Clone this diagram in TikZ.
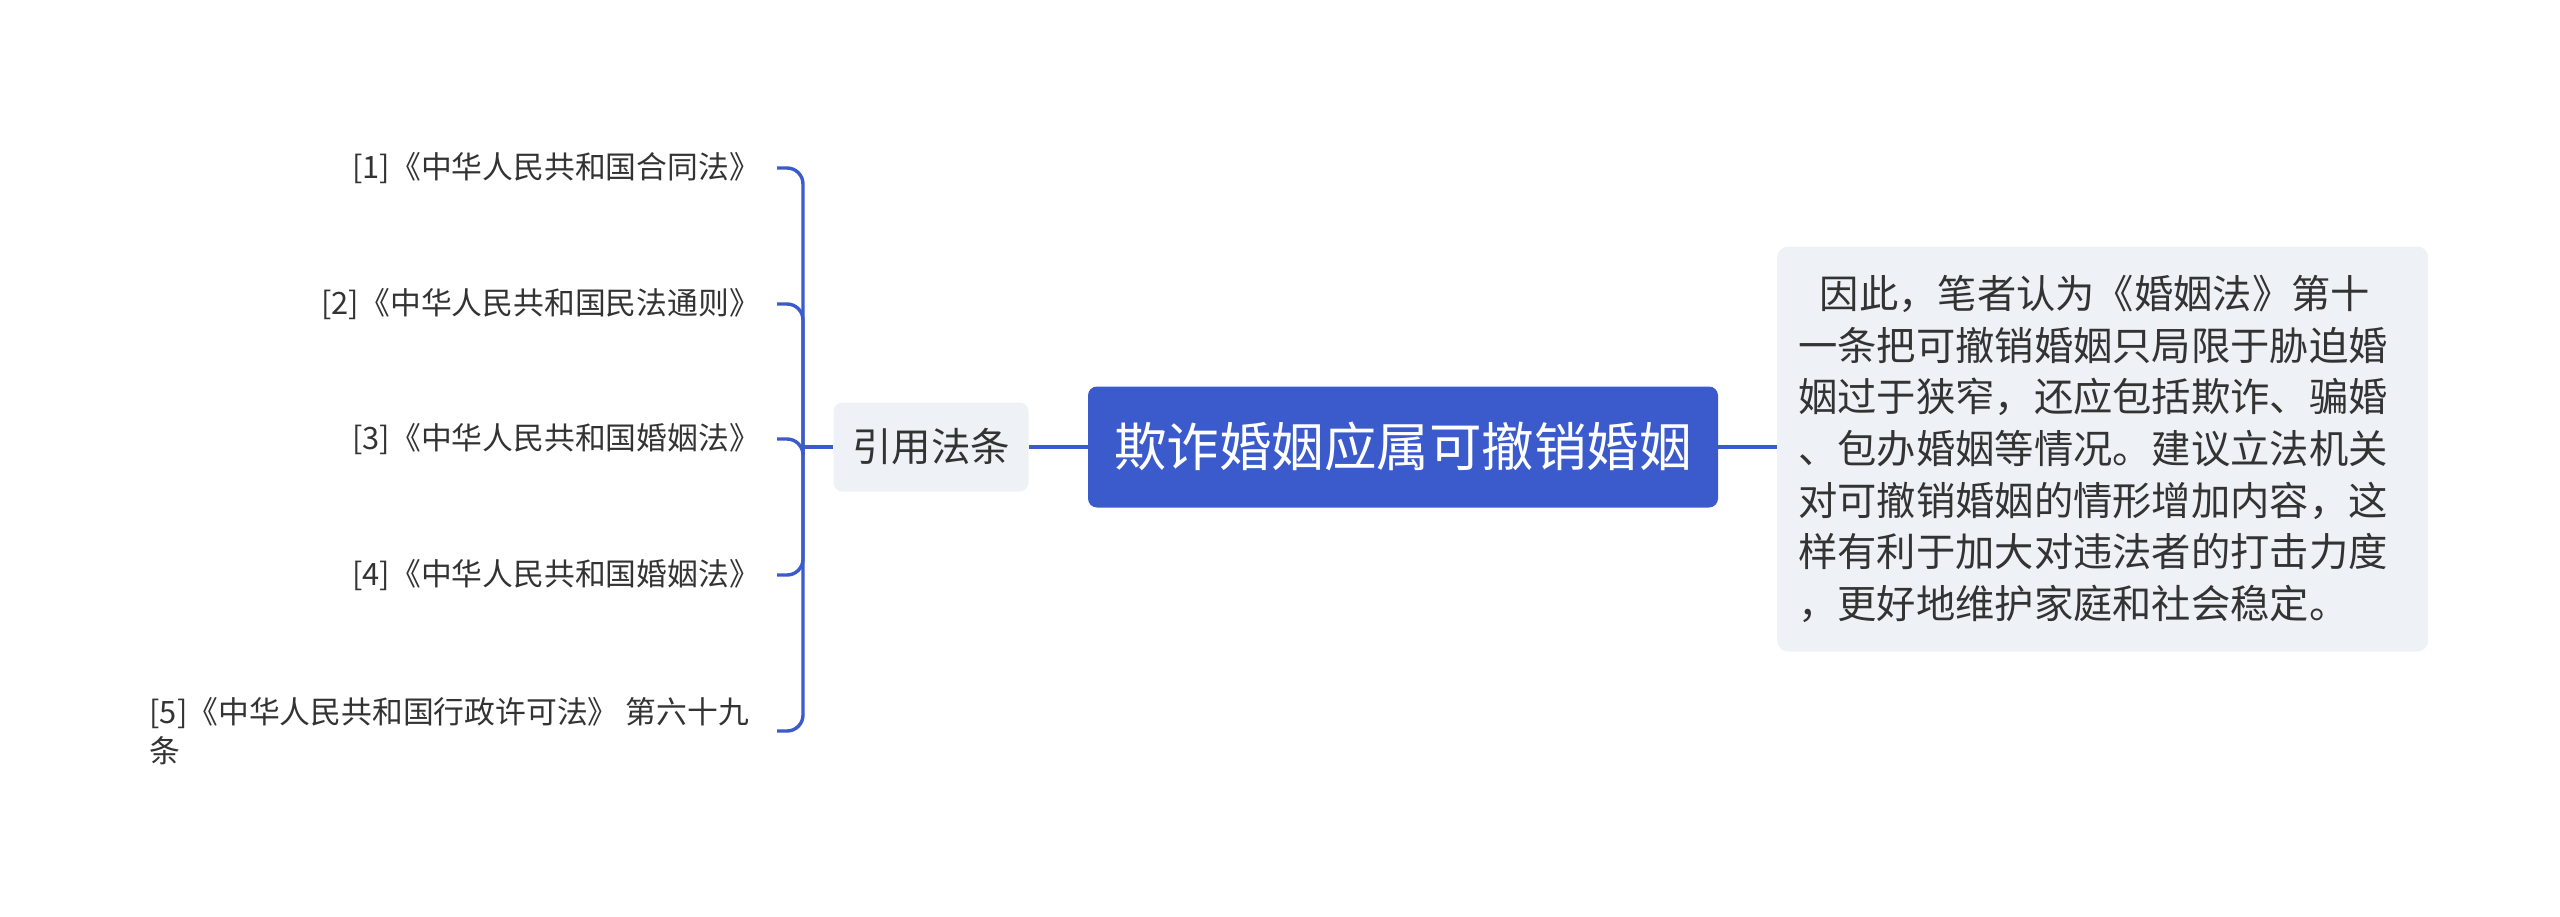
\documentclass[tikz,border=0pt]{standalone}
\usepackage{fontspec}
\setmainfont{Noto Sans CJK SC}
\usetikzlibrary{positioning}

\definecolor{topicblue}{HTML}{3B5BCC}
\definecolor{notegray}{HTML}{EEF1F5}
\definecolor{inkgray}{HTML}{333333}

\begin{document}
\begin{tikzpicture}[x = 1pt, y = -1pt,
        link/.style = {draw = topicblue, line width = 3.4pt, rounded corners = 16pt},
        lawitem/.style = {anchor = east, align = left, inner xsep = 17pt, inner ysep = 0pt,
                          text = inkgray, font = \fontsize{30.8}{39}\selectfont}]
        \useasboundingbox (0, 0) rectangle (2560, 916);

        \node [fill = topicblue, text = white, rounded corners = 9pt,
               minimum width = 630pt, minimum height = 121pt, inner sep = 0pt,
               font = \fontsize{52.5}{60}\selectfont] (root) at (1403, 447) {欺诈婚姻应属可撤销婚姻};
        \node [fill = notegray, text = inkgray, rounded corners = 9pt,
               minimum width = 195pt, minimum height = 89pt, inner sep = 0pt,
               font = \fontsize{39.5}{46}\selectfont] (cite) at (931, 447) {引用法条};
        \node [fill = notegray, text = inkgray, rounded corners = 11pt, anchor = west,
               minimum width = 651pt, minimum height = 405pt, inner xsep = 21pt,
               text width = 609pt, align = left,
               font = \fontsize{39.3}{51.7}\selectfont] (note) at (1777, 449)
               {\hspace{0.55em}因此，笔者认为《婚姻法》第十\\
                一条把可撤销婚姻只局限于胁迫婚\\
                姻过于狭窄，还应包括欺诈、骗婚\\
                、包办婚姻等情况。建议立法机关\\
                对可撤销婚姻的情形增加内容，这\\
                样有利于加大对违法者的打击力度\\
                ，更好地维护家庭和社会稳定。};

        \node [lawitem] (law1) at (777, 168) {[1]《中华人民共和国合同法》};
        \node [lawitem] (law2) at (777, 304) {[2]《中华人民共和国民法通则》};
        \node [lawitem] (law3) at (777, 439) {[3]《中华人民共和国婚姻法》};
        \node [lawitem] (law4) at (777, 575) {[4]《中华人民共和国婚姻法》};
        \node [lawitem, inner xsep = 28pt] (law5) at (777, 731) {[5]《中华人民共和国行政许可法》 第六十九\\条};

        \coordinate (fork) at (803, 447);

        \draw [link] (root.east) -- (note.west |- root.east);
        \draw [link] (cite.east) -- (root.west);
        \draw [link] (cite.west) -- (fork);
        \foreach \i in {1, ..., 5}
            \draw [link] (fork) |- (law\i.east);
    \end{tikzpicture}
\end{document}
